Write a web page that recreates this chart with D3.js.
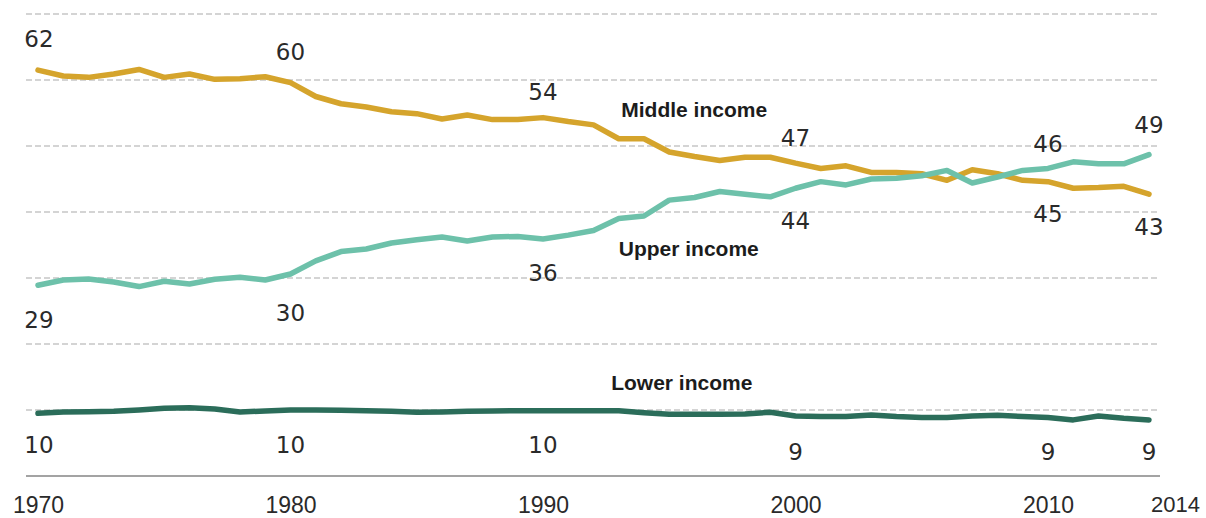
<!DOCTYPE html>
<html>
<head>
<meta charset="utf-8">
<script src="https://cdn.jsdelivr.net/npm/d3@7"></script>
<style>
  html, body { margin: 0; padding: 0; background: #fff; }
  svg { display: block; }
</style>
</head>
<body>
<svg id="chart" width="1206" height="518"></svg>
<script>
// ---- Data ----
const years = d3.range(1970, 2015);

const middleIncome = [
  61.5, 60.6, 60.4, 60.9, 61.6, 60.4, 60.9, 60.1, 60.2, 60.5,
  59.6, 57.5, 56.4, 55.9, 55.2, 54.9, 54.1, 54.7, 54.0, 54.0,
  54.3, 53.7, 53.2, 51.1, 51.1, 49.1, 48.4, 47.8, 48.3, 48.3,
  47.4, 46.6, 47.0, 46.0, 46.0, 45.8, 44.8, 46.4, 45.8, 44.8,
  44.6, 43.6, 43.7, 43.9, 42.7
];

const upperIncome = [
  28.9, 29.7, 29.85, 29.4, 28.7, 29.5, 29.1, 29.8, 30.1, 29.7,
  30.6, 32.6, 34.0, 34.4, 35.3, 35.8, 36.2, 35.6, 36.2, 36.3,
  35.9, 36.5, 37.2, 39.0, 39.4, 41.8, 42.2, 43.1, 42.7, 42.3,
  43.6, 44.6, 44.1, 45.0, 45.1, 45.5, 46.3, 44.4, 45.3, 46.3,
  46.6, 47.6, 47.3, 47.3, 48.7
];

const lowerIncome = [
  9.5, 9.7, 9.75, 9.8, 10.0, 10.25, 10.35, 10.15, 9.7, 9.85,
  10.0, 10.0, 9.95, 9.9, 9.8, 9.65, 9.7, 9.8, 9.85, 9.9,
  9.9, 9.9, 9.9, 9.9, 9.6, 9.35, 9.35, 9.35, 9.4, 9.65,
  9.1, 9.0, 9.0, 9.25, 9.0, 8.85, 8.85, 9.1, 9.2, 9.0,
  8.85, 8.5, 9.1, 8.75, 8.5
];

const seriesNames = ["Middle income", "Upper income", "Lower income"];
const seriesColors = ["#d5a42c", "#6dc1aa", "#2b6d5a"];

const gridValues = [10, 20, 30, 40, 50, 60, 70];
const yearTicks = [1970, 1980, 1990, 2000, 2010, 2014];

// labelled values per series at the tick years
const middleLabels = ["62", "60", "54", "47", "45", "43"];
const middleSide   = ["above", "above", "above", "above", "below", "below"];
const upperLabels  = ["29", "30", "36", "44", "46", "49"];
const upperSide    = ["below", "below", "below", "below", "above", "above"];
const lowerLabels  = ["10", "10", "10", "9", "9", "9"];
const lowerSide    = ["below", "below", "below", "below", "below", "below"];

// series name labels: anchor year / value
const nameYears  = [1993.1, 1993.0, 1992.7];
const nameValues = [55.5, 34.5, 14.2];

// ---- Chart ----
const svg = d3.select("#chart");

const x = d3.scaleLinear().domain([1970, 2014]).range([38, 1149]);
const y = d3.scaleLinear().domain([0, 70]).range([476, 14]);

const gridX0 = 26, gridX1 = 1160;

// dashed gridlines
svg.append("g").selectAll("line")
  .data(gridValues)
  .join("line")
  .attr("x1", gridX0).attr("x2", gridX1)
  .attr("y1", d => y(d)).attr("y2", d => y(d))
  .attr("stroke", "#c6c6c6")
  .attr("stroke-width", 1.5)
  .attr("stroke-dasharray", "6,3");

// baseline
svg.append("line")
  .attr("x1", gridX0).attr("x2", gridX1)
  .attr("y1", y(0)).attr("y2", y(0))
  .attr("stroke", "#a3a3a3")
  .attr("stroke-width", 2);

// lines
const allSeries = [middleIncome, upperIncome, lowerIncome];
const line = d3.line()
  .x((d, i) => x(years[i]))
  .y(d => y(d))
  .curve(d3.curveLinear);

[2, 0, 1].forEach(si => {
  svg.append("path")
    .datum(allSeries[si])
    .attr("d", line)
    .attr("fill", "none")
    .attr("stroke", seriesColors[si])
    .attr("stroke-width", 5.5)
    .attr("stroke-linejoin", "round")
    .attr("stroke-linecap", "round");
});

// x axis labels
const xAxis = d3.axisBottom(x)
  .tickValues(yearTicks)
  .tickFormat(d3.format("d"))
  .tickSize(0)
  .tickPadding(21);

const axisG = svg.append("g")
  .attr("transform", `translate(0,${y(0)})`)
  .call(xAxis);
axisG.select(".domain").remove();
axisG.selectAll("text")
  .attr("font-family", "'Liberation Sans', Arial, sans-serif")
  .attr("font-size", d => d === 2014 ? 22 : 23)
  .attr("fill", "#2a2a2a")
  .attr("dx", d => d === 2014 ? 26 : 0)
  .attr("dy", d => d === 2014 ? "15px" : "0.7em");

// value annotations
const annos = [];
[[middleLabels, middleSide], [upperLabels, upperSide], [lowerLabels, lowerSide]].forEach(([labs, sides]) => {
  labs.forEach((t, i) => annos.push({ t, year: yearTicks[i], side: sides[i] }));
});

svg.append("g").selectAll("text")
  .data(annos)
  .join("text")
  .attr("x", d => x(d.year) + (d.year === 1970 ? 1 : 0))
  .attr("y", d => y(+d.t) + (d.side === "above" ? -28 : 35))
  .attr("text-anchor", "middle")
  .attr("dominant-baseline", "central")
  .attr("font-family", "'DejaVu Sans', Verdana, sans-serif")
  .attr("font-size", 23)
  .attr("fill", "#2a2a2a")
  .text(d => d.t);

// series names
svg.append("g").selectAll("text")
  .data(seriesNames)
  .join("text")
  .attr("x", (d, i) => x(nameYears[i]))
  .attr("y", (d, i) => y(nameValues[i]))
  .attr("dominant-baseline", "central")
  .attr("font-family", "'Liberation Sans', Arial, sans-serif")
  .attr("font-weight", "bold")
  .attr("font-size", 21)
  .attr("fill", "#1c1c1c")
  .text(d => d);
</script>
</body>
</html>
